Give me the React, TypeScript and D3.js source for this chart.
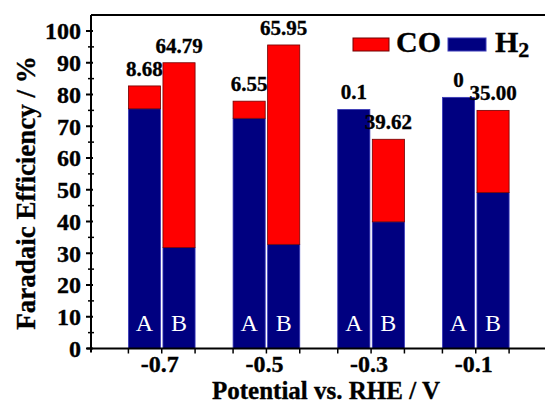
import React from "react";
import * as d3 from "d3";

const potentials = ["-0.7", "-0.5", "-0.3", "-0.1"];
const samples = ["A", "B"];
const h2A = [75.5, 72.5, 75.3, 79.1];
const coA = [7.2, 5.4, 0.1, 0];
const h2B = [31.8, 32.8, 39.9, 49.1];
const coB = [58.2, 62.8, 26.0, 25.9];
const coLabelsA = ["8.68", "6.55", "0.1", "0"];
const coLabelsB = ["64.79", "65.95", "39.62", "35.00"];
const yTicks = [0, 10, 20, 30, 40, 50, 60, 70, 80, 90, 100];

const RED = "#ff0000";
const NAVY = "#000080";
const FONT = "Liberation Serif";

const width = 545;
const height = 403;
const left = 91;
const top = 15;
const bottom = 348.5;

// bold serif, slightly thickened like the scanned original
const heavy = (size: number) => ({
  fontFamily: FONT,
  fontWeight: "bold" as const,
  fontSize: size,
  fill: "black",
  stroke: "black",
  strokeWidth: 0.35,
});

const App = () => {
  const yScale = d3.scaleLinear().domain([0, 100]).range([bottom, 31]);

  const xScale = d3
    .scaleBand()
    .domain(potentials)
    .range([97, 540.5])
    .paddingInner(0.363)
    .paddingOuter(0.3);

  const inner = d3
    .scaleBand()
    .domain(samples)
    .range([0, xScale.bandwidth()])
    .paddingInner(0.07);

  const rows = potentials.flatMap((p, i) => [
    { p, s: "A", h2: h2A[i], co: coA[i], label: coLabelsA[i] },
    { p, s: "B", h2: h2B[i], co: coB[i], label: coLabelsB[i] },
  ]);

  const barX = (d: { p: string; s: string }) =>
    (xScale(d.p) as number) + (inner(d.s) as number);
  const bw = inner.bandwidth();

  const xTickPos = potentials.flatMap((p) => {
    const x0 = xScale(p) as number;
    return [x0, x0 + xScale.bandwidth() / 2, x0 + xScale.bandwidth()];
  });
  const minorY = yTicks.slice(0, -1).map((d) => d + 5);

  return (
    <svg
      width={width}
      height={height}
      style={{ position: "absolute", left: 0, top: 0, background: "white" }}
    >
      {/* bars */}
      {rows.map((d, i) => (
        <g key={"bar" + i}>
          <rect
            x={barX(d)}
            y={yScale(d.h2)}
            width={bw}
            height={bottom - yScale(d.h2)}
            fill={NAVY}
            stroke="#3a3ab8"
            strokeWidth={0.8}
          />
          {d.co > 0.5 && (
            <rect
              x={barX(d)}
              y={yScale(d.h2 + d.co)}
              width={bw}
              height={yScale(d.h2) - yScale(d.h2 + d.co)}
              fill={RED}
              stroke="#700000"
              strokeWidth={0.8}
            />
          )}
          <text
            x={barX(d) + bw / 2}
            y={yScale(d.h2 + d.co) - 10}
            textAnchor="middle"
            {...heavy(21)}
          >
            {d.label}
          </text>
          <text
            x={barX(d) + bw / 2}
            y={331}
            textAnchor="middle"
            fontFamily={FONT}
            fontSize={24}
            fill="white"
          >
            {d.s}
          </text>
        </g>
      ))}

      {/* frame top line */}
      <line x1={left} x2={width} y1={top} y2={top} stroke="black" strokeWidth={2} />

      {/* y axis */}
      <line x1={left} x2={left} y1={top} y2={bottom + 4} stroke="black" strokeWidth={2} />
      {yTicks.map((t) => (
        <g key={"yt" + t}>
          <line
            x1={left - 5}
            x2={left + 2}
            y1={yScale(t)}
            y2={yScale(t)}
            stroke="black"
            strokeWidth={2}
          />
          <text
            x={left - 10}
            y={yScale(t)}
            dy="0.35em"
            textAnchor="end"
            {...heavy(24)}
          >
            {t}
          </text>
        </g>
      ))}
      {minorY.map((t) => (
        <line
          key={"ym" + t}
          x1={left - 3}
          x2={left + 3}
          y1={yScale(t)}
          y2={yScale(t)}
          stroke="black"
          strokeWidth={1.5}
        />
      ))}

      {/* x axis */}
      <line x1={left - 4} x2={width} y1={bottom} y2={bottom} stroke="black" strokeWidth={2} />
      {xTickPos.map((x, i) => (
        <line
          key={"xt" + i}
          x1={x}
          x2={x}
          y1={bottom}
          y2={bottom + 5}
          stroke="black"
          strokeWidth={1.5}
        />
      ))}
      {potentials.map((p) => (
        <text
          key={"xl" + p}
          x={(xScale(p) as number) + xScale.bandwidth() / 2 - 2}
          y={372}
          textAnchor="middle"
          {...heavy(24)}
        >
          {p}
        </text>
      ))}

      {/* axis titles */}
      <text x={326} y={399} textAnchor="middle" {...heavy(25)}>
        Potential vs. RHE / V
      </text>
      <text
        transform="translate(35, 193) rotate(-90)"
        textAnchor="middle"
        {...heavy(27)}
      >
        Faradaic Efficiency / %
      </text>

      {/* legend */}
      <rect x={353} y={38} width={36} height={13} fill={RED} stroke="#700000" strokeWidth={1} />
      <text x={396} y={52} {...heavy(30)}>
        CO
      </text>
      <rect x={448} y={38} width={38} height={13} fill={NAVY} stroke="#3a3ab8" strokeWidth={1} />
      <text x={495} y={52} {...heavy(30)}>
        H
        <tspan dy={5} fontSize={22}>
          2
        </tspan>
      </text>
    </svg>
  );
};

export default App;
